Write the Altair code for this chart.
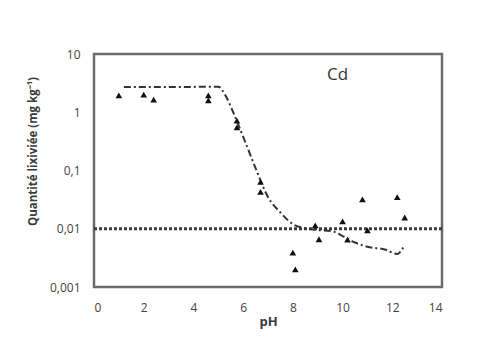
import altair as alt
import pandas as pd

# Measured points (pH, leached Cd in mg/kg)
ph_pts = [1.0, 2.0, 2.4, 4.6, 4.6, 5.75, 5.75, 6.7, 6.7, 8.0, 8.1, 8.9, 9.05, 10.0, 10.2, 10.8, 11.0, 12.2, 12.5]
cd_pts = [1.95, 2.0, 1.65, 1.95, 1.6, 0.72, 0.55, 0.064, 0.043, 0.0039, 0.002, 0.0114, 0.0066, 0.0134, 0.0065, 0.032, 0.0094, 0.035, 0.0156]

# Dash-dot model curve
fit_ph = [1.2, 3.0, 5.0, 5.3, 5.6, 6.0, 6.5, 7.0, 7.5, 8.0, 8.5, 9.0, 9.6, 10.0, 10.5, 11.0, 11.7, 12.2, 12.5]
fit_cd = [2.7, 2.7, 2.75, 1.9, 1.0, 0.38, 0.11, 0.035, 0.019, 0.012, 0.0102, 0.0095, 0.009, 0.0075, 0.0058, 0.0049, 0.0044, 0.0037, 0.0053]

# Horizontal dotted limit line
limit_cd = [0.01]

# Annotation
label_text = ["Cd"]
label_ph = [9.8]
label_cd = [4.3]

x_ticks = [0, 2, 4, 6, 8, 10, 12, 14]
y_ticks = [0.001, 0.01, 0.1, 1, 10]

df_pts = pd.DataFrame({"ph": ph_pts, "cd": cd_pts})
df_fit = pd.DataFrame({"ph": fit_ph, "cd": fit_cd})
df_lim = pd.DataFrame({"cd": limit_cd})
df_txt = pd.DataFrame({"ph": label_ph, "cd": label_cd, "t": label_text})

W, H = 348, 233

xs = alt.Scale(domain=[0, 14], nice=False, zero=False)
ys = alt.Scale(type="log", domain=[0.001, 10], nice=False)

xaxis = alt.Axis(values=x_ticks, title="pH", labelPadding=15,
                 titleX=W / 2, titleY=34, titleBaseline="middle", titleAlign="center",
                 titleFontSize=13, titleFontWeight="bold")
yaxis = alt.Axis(values=y_ticks, title="Quantité lixiviée (mg kg⁻¹)", labelPadding=14,
                 labelExpr="replace(format(datum.value, '~g'), '.', ',')",
                 titleX=-61, titleY=97, titleAngle=270, titleBaseline="middle", titleAlign="center",
                 titleFontSize=11.5, titleFontWeight="bold")

X = alt.X("ph:Q", scale=xs, axis=xaxis)
Y = alt.Y("cd:Q", scale=ys, axis=yaxis)

rule = alt.Chart(df_lim).mark_rule(color="#3a3a3a", strokeWidth=3, strokeDash=[3, 2]).encode(y=Y)
fit = alt.Chart(df_fit).mark_line(color="#333333", strokeWidth=2, strokeDash=[7, 3, 2, 3],
                                   interpolate="monotone").encode(x=X, y=Y)
pts = alt.Chart(df_pts).mark_point(shape="triangle-up", filled=True, color="#111111",
                                   size=45, opacity=1).encode(x=X, y=Y)
txt = alt.Chart(df_txt).mark_text(font="Open Sans", fontSize=17, color="#333333").encode(x=X, y=Y, text="t:N")

chart = alt.layer(rule, fit, pts, txt).properties(
    width=W, height=H,
    padding={"left": 86, "top": 46, "right": 30, "bottom": 50},
    autosize=alt.AutoSizeParams(type="none"),
    background="white",
).configure_view(
    stroke="#6b6b6b", strokeWidth=2.5
).configure_axis(
    domain=False, ticks=False, grid=False,
    labelFont="Open Sans", labelFontSize=12, labelColor="#444444",
    titleFont="Open Sans", titleColor="#3a3a3a",
)

chart.save("out.html", embed_options={"renderer": "svg", "actions": False})
